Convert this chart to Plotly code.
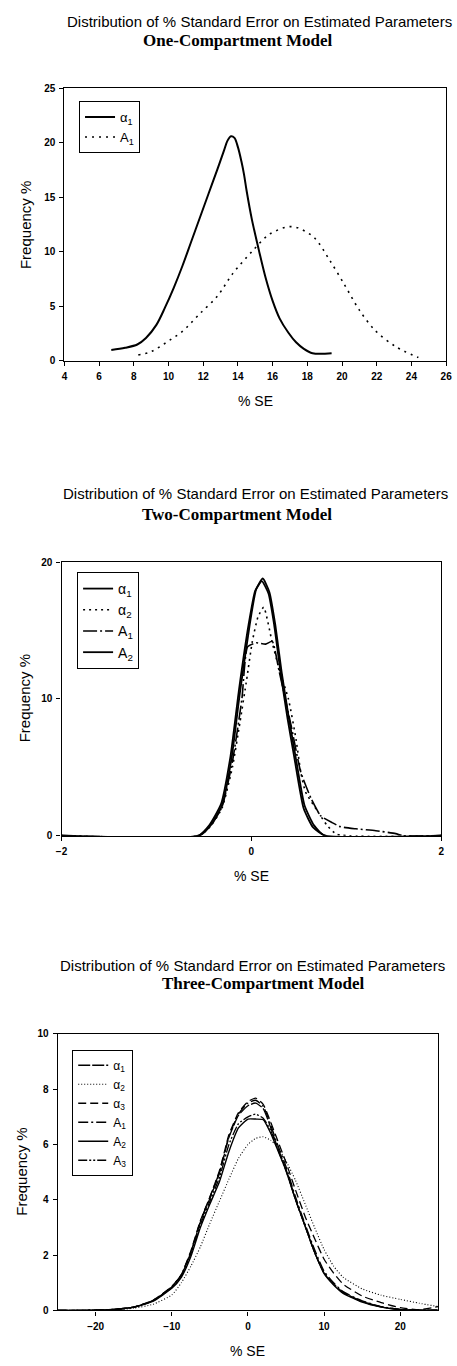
import plotly.graph_objects as go

W, H = 457, 1366

# ---------------- Panel 1: One-Compartment Model ----------------
p1_a1_x = [6.7, 7.5, 8.2, 8.7, 9.3, 9.8, 10.3, 10.8, 11.3, 11.8, 12.3, 12.8, 13.2, 13.4, 13.6, 13.8, 14.0, 14.2, 14.35, 14.5, 14.8, 15.2, 15.6, 16.0, 16.4, 16.9, 17.35, 17.8, 18.3, 19.4]
p1_a1_y = [1.0, 1.2, 1.5, 2.1, 3.3, 4.9, 6.7, 8.7, 10.9, 13.1, 15.3, 17.5, 19.3, 20.2, 20.6, 20.45, 19.6, 18.3, 17.1, 15.6, 13.0, 10.2, 7.6, 5.5, 3.9, 2.6, 1.7, 1.1, 0.7, 0.7]
p1_A1_x = [8.26, 9.0, 10.07, 10.8, 11.85, 12.8, 13.7, 14.85, 15.8, 16.9, 17.45, 18.4, 19.3, 20.1, 21.0, 21.9, 23.1, 24.4]
p1_A1_y = [0.55, 0.85, 1.9, 2.7, 4.4, 5.9, 8.0, 10.1, 11.6, 12.3, 12.2, 11.3, 9.2, 7.1, 4.65, 2.8, 1.3, 0.3]

# ---------------- Panel 2: Two-Compartment Model ----------------
p2_a1_x = [-2.0, -0.55, -0.43, -0.31, -0.21, -0.12, -0.02, 0.05, 0.12, 0.19, 0.25, 0.32, 0.39, 0.46, 0.56, 0.66, 0.77, 2.0]
p2_a1_y = [0, 0, 0.75, 2.2, 5.6, 10.5, 15.3, 18.0, 18.8, 17.8, 15.5, 11.9, 8.8, 6.0, 2.2, 0.75, 0, 0]
p2_a2_x = [-2.0, -0.55, -0.43, -0.31, -0.2, -0.12, -0.05, 0.01, 0.07, 0.13, 0.22, 0.3, 0.39, 0.47, 0.52, 0.57, 0.7, 0.8, 0.9, 2.0]
p2_a2_y = [0, 0, 0.7, 2.0, 5.0, 8.3, 11.4, 14.2, 16.0, 16.7, 14.1, 12.0, 10.0, 7.05, 4.65, 3.2, 1.75, 0.73, 0.1, 0]
p2_A1_x = [-2.0, -0.55, -0.43, -0.31, -0.2, -0.1, -0.04, 0.05, 0.15, 0.22, 0.29, 0.42, 0.52, 0.63, 0.73, 0.85, 0.94, 1.1, 1.31, 1.52, 1.6, 2.0]
p2_A1_y = [0, 0, 0.7, 2.1, 5.4, 10.0, 13.8, 14.1, 14.0, 14.2, 12.1, 8.0, 4.65, 2.7, 1.45, 0.95, 0.65, 0.5, 0.36, 0.15, 0, 0]
p2_A2_x = [-2.0, -0.56, -0.44, -0.32, -0.22, -0.13, -0.03, 0.04, 0.11, 0.18, 0.24, 0.31, 0.38, 0.45, 0.55, 0.65, 0.78, 2.0]
p2_A2_y = [0, 0, 0.8, 2.3, 5.8, 10.7, 15.4, 17.9, 18.6, 17.7, 15.4, 11.8, 8.6, 5.8, 2.0, 0.6, 0, 0]

# ---------------- Panel 3: Three-Compartment Model ----------------
p3_x = [-25, -20, -17.5, -15, -12.5, -10, -8.75, -7.5, -6.25, -5, -3.75, -2.5, -1.25, 0, 1, 2, 3, 3.75, 5, 6.25, 7.5, 8.75, 10, 11.25, 12.5, 15, 17.5, 20, 22.5, 25]
p3_a1 = [0, 0.01, 0.04, 0.12, 0.35, 0.85, 1.27, 2.1, 3.2, 4.05, 4.95, 6.25, 7.05, 7.4, 7.5, 7.3, 6.6, 6.0, 5.1, 4.0, 3.05, 2.1, 1.35, 0.95, 0.65, 0.33, 0.13, 0.03, 0.01, 0]
p3_a2 = [0, 0.0, 0.02, 0.08, 0.22, 0.56, 1.0, 1.6, 2.3, 3.15, 3.95, 4.75, 5.5, 6.0, 6.22, 6.28, 6.15, 5.95, 5.4, 4.7, 3.85, 3.0, 2.2, 1.6, 1.2, 0.78, 0.55, 0.4, 0.26, 0.14]
p3_a3 = [0, 0.01, 0.04, 0.12, 0.36, 0.87, 1.3, 2.15, 3.25, 4.1, 5.05, 6.35, 7.15, 7.55, 7.68, 7.45, 6.8, 6.25, 5.35, 4.35, 3.4, 2.6, 1.85, 1.35, 0.95, 0.52, 0.28, 0.1, 0.03, 0.14]
p3_A1 = [0, 0.01, 0.04, 0.12, 0.36, 0.86, 1.3, 2.12, 3.22, 4.1, 5.0, 6.3, 7.1, 7.5, 7.6, 7.38, 6.7, 6.1, 5.2, 4.1, 3.12, 2.2, 1.42, 1.0, 0.68, 0.35, 0.14, 0.04, 0.01, 0.02]
p3_A2 = [0, 0.01, 0.04, 0.12, 0.33, 0.8, 1.2, 1.95, 3.0, 3.85, 4.65, 5.75, 6.6, 6.92, 6.92, 6.9, 6.4, 5.9, 5.05, 4.0, 3.05, 2.1, 1.33, 0.92, 0.62, 0.3, 0.12, 0.03, 0.01, 0]
p3_A3 = [0, 0.01, 0.04, 0.12, 0.34, 0.83, 1.24, 2.05, 3.1, 3.95, 4.8, 6.0, 6.75, 7.0, 7.1, 6.95, 6.5, 5.95, 5.05, 4.0, 3.05, 2.1, 1.35, 0.95, 0.64, 0.32, 0.13, 0.03, 0.01, 0]

fig = go.Figure()

def add(x, y, name, dash, width, xa, ya, leg, smooth=0.5):
    fig.add_trace(go.Scatter(x=x, y=y, name=name, mode="lines",
                             line=dict(color="black", width=width, dash=dash, shape="spline", smoothing=smooth),
                             xaxis=xa, yaxis=ya, legend=leg))

# panel 1
add(p1_a1_x, p1_a1_y, "α<sub>1</sub>", "solid", 2.0, "x", "y", "legend", 0.9)
add(p1_A1_x, p1_A1_y, "A<sub>1</sub>", "2px,5px", 1.6, "x", "y", "legend", 0.9)
# panel 2
add(p2_a1_x, p2_a1_y, "α<sub>1</sub>", "solid", 1.8, "x2", "y2", "legend2")
add(p2_a2_x, p2_a2_y, "α<sub>2</sub>", "2px,4px", 1.6, "x2", "y2", "legend2")
add(p2_A1_x, p2_A1_y, "A<sub>1</sub>", "14px,3px,2px,3px", 1.6, "x2", "y2", "legend2")
add(p2_A2_x, p2_A2_y, "A<sub>2</sub>", "solid", 1.8, "x2", "y2", "legend2")
# panel 3
add(p3_x, p3_a1, "α<sub>1</sub>", "12px,2px", 1.3, "x3", "y3", "legend3")
add(p3_x, p3_a2, "α<sub>2</sub>", "1px,2px", 1.1, "x3", "y3", "legend3")
add(p3_x, p3_a3, "α<sub>3</sub>", "8px,4px", 1.3, "x3", "y3", "legend3")
add(p3_x, p3_A1, "A<sub>1</sub>", "10px,3px,2px,3px", 1.3, "x3", "y3", "legend3")
add(p3_x, p3_A2, "A<sub>2</sub>", "solid", 1.4, "x3", "y3", "legend3")
add(p3_x, p3_A3, "A<sub>3</sub>", "9px,2px,2px,2px,2px,2px", 1.3, "x3", "y3", "legend3")

def px(v):
    return v / W

def py(v):
    return 1 - v / H

tickfont = dict(family="Arial", size=10, color="black", weight="bold")
axcommon = dict(showline=True, mirror=True, linecolor="black", linewidth=1.2,
                ticks="outside", ticklen=4, tickcolor="black", tickwidth=1,
                showgrid=False, zeroline=False, tickfont=tickfont, ticklabelstandoff=2)

panels = [
    ("xaxis", "yaxis", 60, 452, 83, 358, [4, 26], list(range(4, 27, 2)), [0, 25], [0, 5, 10, 15, 20, 25]),
    ("xaxis2", "yaxis2", 57, 447, 561, 837, [-2, 2], [-2, 0, 2], [0, 20], [0, 10, 20]),
    ("xaxis3", "yaxis3", 53, 444, 1037, 1316, [-25, 25], [-20, -10, 0, 10, 20], [0, 10], [0, 2, 4, 6, 8, 10]),
]

layout = dict(width=W, height=H, margin=dict(l=0, r=0, t=0, b=0),
              paper_bgcolor="white", plot_bgcolor="white", showlegend=True)
annotations = []
for i, (xa, ya, x0, x1, yt, yb, xr, xt, yr, yt_) in enumerate(panels):
    anchor_x = "y" if i == 0 else f"y{i+1}"
    anchor_y = "x" if i == 0 else f"x{i+1}"
    layout[xa] = dict(axcommon, domain=[px(x0), px(x1)], range=xr, tickvals=xt, anchor=anchor_x)
    layout[ya] = dict(axcommon, domain=[py(yb), py(yt)], range=yr, tickvals=yt_, anchor=anchor_y)
    annotations.append(dict(text="% SE", x=px((x0 + x1) / 2), y=py(yb + 41), xref="paper", yref="paper",
                            showarrow=False, font=dict(family="Arial", size=14, color="black"),
                            xanchor="center", yanchor="middle"))
    annotations.append(dict(text="Frequency %", x=px([20, 19, 16][i]), y=py((yt + yb) / 2), xref="paper", yref="paper",
                            showarrow=False, textangle=-90, font=dict(family="Arial", size=15, color="black"),
                            xanchor="center", yanchor="middle"))

titles = [
    ("One-Compartment Model", 16, 35, 260, 238),
    ("Two-Compartment Model", 492, 513, 256, 237),
    ("Three-Compartment Model", 968, 986, 253, 264),
]
for sub, y1, y2, c1, c2 in titles:
    annotations.append(dict(text="Distribution of % Standard Error on Estimated Parameters",
                            x=px(c1), y=py(y1), xref="paper", yref="paper", showarrow=False,
                            font=dict(family="Arial", size=15, color="black"), xanchor="center", yanchor="middle"))
    annotations.append(dict(text="<b>" + sub + "</b>", x=px(c2), y=py(y2), xref="paper", yref="paper",
                            showarrow=False, font=dict(family="Liberation Serif", size=17, color="black"),
                            xanchor="center", yanchor="middle"))
layout["annotations"] = annotations

legcommon = dict(xanchor="left", yanchor="top", bordercolor="black", borderwidth=1, bgcolor="white",
                 font=dict(family="Arial", size=13, color="black"), itemwidth=30, tracegroupgap=0,
                 xref="paper", yref="paper")
layout["legend"] = dict(legcommon, x=px(75), y=py(96))
layout["legend2"] = dict(legcommon, x=px(73), y=py(571), font=dict(family="Arial", size=14, color="black"))
layout["legend3"] = dict(legcommon, x=px(68), y=py(1053), font=dict(family="Arial", size=12, color="black"))

fig.update_layout(**layout)
fig.write_html("out.html")
